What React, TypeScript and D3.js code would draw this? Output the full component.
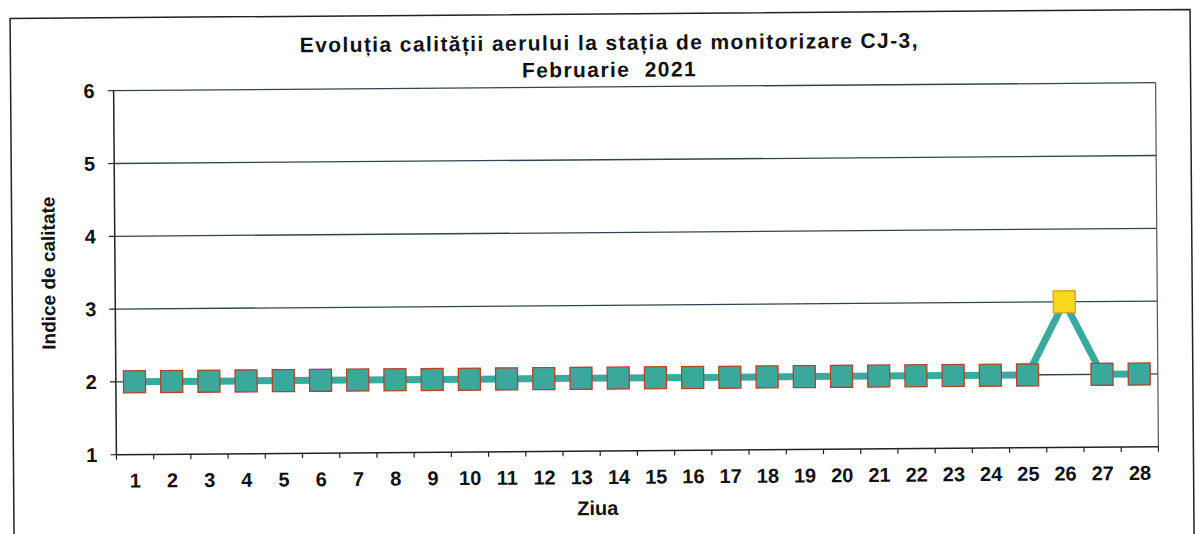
import React from 'react';
import * as d3 from 'd3';

const days = d3.range(1, 29).map(String);
const values = [2, 2, 2, 2, 2, 2, 2, 2, 2, 2, 2, 2, 2, 2, 2, 2, 2, 2, 2, 2, 2, 2, 2, 2, 2, 3, 2, 2];
const yTicks = [1, 2, 3, 4, 5, 6];
const titleLines = ['Evoluția calității aerului la stația de monitorizare CJ-3,', 'Februarie  2021'];

const W = 1195;
const H = 534;
const font = '"Liberation Sans", Arial, sans-serif';

const App = () => {
  const left = 115, right = 1157, top = 87, bottom = 451;

  const x = d3.scaleBand().domain(days).range([left, right]);
  const y = d3.scaleLinear().domain([1, 6]).range([bottom, top]);

  const line = d3.line<number>()
    .x((d, i) => x(days[i])! + x.bandwidth() / 2)
    .y(d => y(d));

  const tickXs = days.map(d => x(d)!).concat([right]);
  const ms = 22;

  return (
    <svg width={W} height={H} style={{ position: 'absolute', left: 0, top: 0, background: '#fff' }}>
      <g transform={`rotate(-0.44 ${W / 2} ${H / 2})`} fontFamily={font}>
        {/* outer frame */}
        <path d={`M12,${H + 10} V14 H1192 V${H + 10}`} fill="none" stroke="#222" strokeWidth={1.5} />

        {titleLines.map((t, i) => (
          <text key={i} x={611} y={50 + i * 27} textAnchor="middle" fontSize={21} letterSpacing={1.4}
            fontWeight="bold" fill="#111" style={{ whiteSpace: 'pre' }}>{t}</text>
        ))}

        {/* grid */}
        {yTicks.filter(t => t > 1).map(t => (
          <line key={t} x1={left} x2={right} y1={y(t)} y2={y(t)} stroke="#2f4550" strokeWidth={1.3} />
        ))}
        <line x1={right} x2={right} y1={top} y2={bottom} stroke="#555" strokeWidth={1.2} />

        {/* axes */}
        <line x1={left} x2={left} y1={top} y2={bottom} stroke="#222" strokeWidth={1.5} />
        <line x1={left} x2={right} y1={bottom} y2={bottom} stroke="#222" strokeWidth={1.5} />
        {yTicks.map(t => (
          <g key={t}>
            <line x1={left - 6} x2={left} y1={y(t)} y2={y(t)} stroke="#222" strokeWidth={1.2} />
            <text x={left - 19} y={y(t) + 7} textAnchor="end" fontSize={20} fontWeight="bold" fill="#111">{t}</text>
          </g>
        ))}
        {tickXs.map((tx, i) => (
          <line key={i} x1={tx} x2={tx} y1={bottom} y2={bottom + 5} stroke="#222" strokeWidth={1.2} />
        ))}
        {days.map(d => (
          <text key={d} x={x(d)! + x.bandwidth() / 2} y={bottom + 33} textAnchor="middle" fontSize={20} fontWeight="bold" fill="#111">{d}</text>
        ))}

        <text x={596} y={515} textAnchor="middle" fontSize={20} fontWeight="bold" fill="#111">Ziua</text>
        <text transform={`translate(55 ${(top + bottom) / 2}) rotate(-90)`} textAnchor="middle" fontSize={19} fontWeight="bold" fill="#111">Indice de calitate</text>

        {/* series */}
        <path d={line(values)!} fill="none" stroke="#3aaa9e" strokeWidth={7} />
        {values.map((v, i) => (
          <rect key={i}
            x={x(days[i])! + x.bandwidth() / 2 - ms / 2}
            y={y(v) - ms / 2}
            width={ms} height={ms}
            fill={v >= 3 ? '#f7d81c' : '#3aa99c'}
            stroke={v >= 3 ? '#d9a020' : '#b8402c'}
            strokeWidth={1.3} />
        ))}
      </g>
    </svg>
  );
};

export default App;
